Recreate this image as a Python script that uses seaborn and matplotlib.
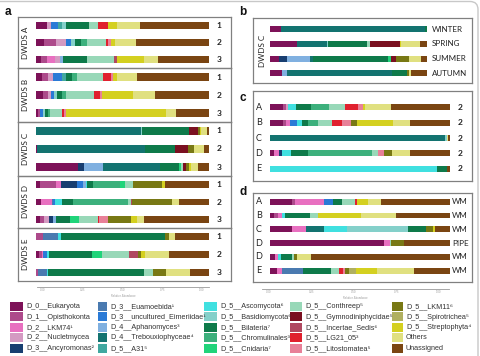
import numpy as np
import pandas as pd
import matplotlib
matplotlib.use('Agg')
import matplotlib.pyplot as plt
import matplotlib.transforms as mtransforms
from matplotlib.patches import Rectangle, FancyBboxPatch
import seaborn as sns

# taxa, in stacking / legend order
KEYS = ['euk', 'opi', 'lkm74', 'nuc', 'ancy', 'euam', 'eime', 'aphan', 'treb', 'a31',
        'asco', 'basid', 'bilat', 'chrom', 'cnid', 'conth', 'gymn', 'incert', 'lg21', 'lito',
        'lkm11', 'spiro', 'strep', 'others', 'unass']
LABELS = ['D_0__Eukaryota', 'D_1__Opisthokonta', 'D_2__LKM74¹', 'D_2__Nucletmycea', 'D_3__Ancyromonas²',
          'D_3__Euamoebida¹', 'D_3__uncultured_Eimeriidae¹', 'D_4__Aphanomyces³', 'D_4__Trebouxiophyceae⁴', 'D_5__A31⁵',
          'D_5__Ascomycota⁶', 'D_5__Basidiomycota⁶', 'D_5__Bilateria⁷', 'D_5__Chromulinales³', 'D_5__Cnidaria⁷',
          'D_5__Conthreep⁵', 'D_5__Gymnodiniphycidae⁵', 'D_5__Incertae_Sedis⁶', 'D_5__LG21_05³', 'D_5__Litostomatea⁵',
          'D_5__LKM11⁶', 'D_5__Spirotrichea⁵', 'D_5__Streptophyta⁴', 'Others', 'Unassigned']
COLORS = ['#7d1258', '#ad4a8b', '#e870c0', '#d49ac2', '#183e70',
          '#4a7ab0', '#2a7ad6', '#80b0e0', '#137370', '#40a8a0',
          '#40e0e0', '#84d0ca', '#0e7a4a', '#3cb07c', '#20d47a',
          '#98d8b8', '#7a1020', '#b04860', '#e0202e', '#e88098',
          '#787814', '#b0b060', '#d4d020', '#e0e080', '#7a4512']

# panel a: DWDS A-E, samples 1-3 (% relative abundance)
a_A1 = dict(euk=6.5, nuc=2.3, eime=4.0, a31=2.5, basid=2.3, bilat=13.4, conth=5.2, lg21=5.8, strep=4.8, others=13.4, unass=39.8)
a_A2 = dict(euk=4.8, opi=6.9, nuc=5.8, eime=2.9, basid=2.5, bilat=3.1, chrom=3.8, conth=10.7, lg21=1.5, lito=1.3, strep=2.7, others=12.1, unass=41.9)
a_A3 = dict(euk=2.9, opi=3.5, lkm74=4.8, nuc=2.9, aphan=1.5, bilat=13.8, conth=15.7, incert=1.9, strep=15.4, others=7.9, unass=29.7)
a_B1 = dict(euk=3.5, opi=3.8, nuc=2.9, eime=5.2, a31=1.9, bilat=3.5, chrom=2.9, conth=15.0, lg21=4.8, lito=1.3, strep=2.3, others=11.1, unass=41.8)
a_B2 = dict(euk=4.4, opi=2.9, nuc=1.3, eime=1.9, basid=1.9, bilat=2.5, chrom=2.5, conth=16.3, lg21=3.3, lito=1.3, strep=17.9, others=12.9, unass=30.9)
a_B3 = dict(euk=1.5, opi=1.0, eime=1.5, basid=1.5, bilat=1.5, chrom=1.0, conth=7.0, lg21=1.3, lito=1.0, strep=58.2, others=5.4, unass=19.2)
a_C1 = dict(treb=60.8, basid=0.5, bilat=27.3, gymn=5.0, lkm11=1.3, strep=0.5, others=3.4, unass=1.2)
a_C2 = dict(euk=1.0, treb=62.0, bilat=17.3, gymn=7.7, lkm11=3.5, others=5.5, unass=3.0)
a_C3 = dict(euk=24.2, ancy=3.8, aphan=10.6, treb=33.0, bilat=11.1, cnid=1.3, conth=1.0, gymn=1.9, lkm11=1.5, strep=1.0, others=4.2, unass=6.4)
a_D1 = dict(euk=2.5, opi=9.0, lkm74=2.9, ancy=9.2, eime=3.8, aphan=1.5, asco=0.8, bilat=3.3, chrom=15.9, cnid=2.9, conth=4.2, lkm11=16.9, strep=1.9, unass=25.2)
a_D2 = dict(euk=2.9, lkm74=6.3, euam=1.0, eime=1.0, asco=4.0, bilat=6.1, chrom=32.1, conth=1.5, incert=0.5, lkm11=23.0, others=4.2, unass=17.4)
a_D3 = dict(euk=2.5, opi=2.3, nuc=3.1, ancy=2.3, aphan=1.5, bilat=8.1, cnid=5.4, conth=10.6, lg21=1.0, lito=4.8, lkm11=13.4, strep=3.3, others=4.0, unass=37.7)
a_E1 = dict(opi=4.4, euam=8.6, asco=1.5, bilat=60.3, lkm11=2.1, others=3.3, unass=19.8)
a_E2 = dict(euk=1.9, opi=1.5, lkm74=1.0, eime=1.9, asco=1.5, bilat=24.4, cnid=5.8, conth=15.7, incert=5.4, lkm11=1.9, strep=1.9, others=14.0, unass=23.1)
a_E3 = dict(opi=1.5, euam=4.8, asco=1.0, bilat=55.3, conth=4.8, lkm11=7.7, others=13.8, unass=11.1)

# panel b: DWDS C by season
b_winter = dict(euk=6.8, treb=91.7, bilat=1.5)
b_spring = dict(euk=17.0, treb=19.1, basid=1.1, bilat=24.9, conth=1.3, gymn=19.1, strep=1.1, others=11.7, unass=4.7)
b_summer = dict(euk=6.0, ancy=5.1, aphan=14.5, treb=2.1, bilat=47.4, cnid=1.9, gymn=3.2, lkm11=8.5, others=7.4, unass=3.9)
b_autumn = dict(euk=7.9, aphan=2.8, treb=67.0, bilat=9.6, lkm11=1.0, others=1.5, unass=10.2)

# panel c: sample 2 of each DWDS
c_A = dict(euk=7.4, opi=1.5, nuc=1.0, asco=4.6, bilat=8.3, chrom=10.2, conth=8.7, lg21=7.0, lito=3.1, strep=1.0, others=14.3, unass=32.9)
c_B = dict(euk=7.4, opi=1.5, lkm74=2.2, eime=3.7, asco=2.8, bilat=3.7, chrom=5.6, conth=7.4, lg21=5.6, lito=5.0, lkm11=3.3, strep=20.0, others=9.6, unass=22.2)
c_C = dict(treb=97.2, basid=0.9, others=0.9, unass=1.0)
c_D = dict(euk=2.4, lkm74=2.8, ancy=1.3, asco=5.2, bilat=9.3, chrom=35.6, conth=3.3, lito=3.5, lkm11=4.3, others=10.2, unass=22.1)
c_E = dict(asco=92.6, bilat=5.9, unass=1.5)

# panel d: water main / pipe
d_A = dict(euk=12.0, opi=1.9, lkm74=16.1, eime=5.2, bilat=4.6, conth=7.4, lg21=0.9, strep=6.5, others=7.0, unass=38.4)
d_B = dict(euk=2.2, opi=2.4, lkm74=1.9, asco=1.9, bilat=13.9, conth=4.3, strep=24.1, others=19.4, unass=29.9)
d_C = dict(euk=12.4, lkm74=7.6, treb=10.0, asco=12.6, basid=34.3, bilat=9.8, lkm11=4.1, strep=0.9, unass=8.3)
d_D_pipe = dict(euk=63.5, lkm74=3.1, conth=0.9, lkm11=6.9, unass=25.6)
d_D_wm = dict(euk=2.8, lkm74=1.9, asco=1.3, bilat=6.1, conth=1.3, lkm11=1.5, others=8.0, unass=77.1)
d_E = dict(euk=4.1, lkm74=2.4, euam=12.0, bilat=15.4, conth=4.6, lg21=2.2, lito=0.9, lkm11=2.4, spiro=3.7, strep=11.5, others=20.8, unass=20.0)

sns.set_style('white')
plt.rcParams['font.family'] = ['Lato', 'DejaVu Sans']

W, H = 481, 356
fig = plt.figure(figsize=(W / 100, H / 100), dpi=100)
deco = fig.add_axes([0, 0, 1, 1], zorder=-5)
deco.set_xlim(0, W)
deco.set_ylim(H, 0)
deco.axis('off')

PALETTE = dict(zip(KEYS, COLORS))
FRAME = '#808080'
TXT = '#222222'


def px_axes(x0, y0, x1, y1):
    return fig.add_axes([x0 / W, 1 - y1 / H, (x1 - x0) / W, (y1 - y0) / H])


def stacked(ax, bars, ids, width):
    frac = pd.DataFrame([[b.get(k, 0.0) for k in KEYS] for b in bars], columns=KEYS)
    frac = frac.div(frac.sum(axis=1), axis=0)
    cum = frac.cumsum(axis=1)
    cum['row'] = ids
    long = cum.melt(id_vars='row', var_name='taxon', value_name='right')
    sns.barplot(data=long, x='right', y='row', hue='taxon', hue_order=KEYS[::-1],
                order=ids, palette=PALETTE, dodge=False, orient='h', width=width,
                saturation=1, linewidth=0, errorbar=None, legend=False, ax=ax)
    ax.set_xticks([])
    ax.set_yticks([])
    ax.set_xlabel('')
    ax.set_ylabel('')
    ax.set_facecolor('none')
    for sp in ax.spines.values():
        sp.set_color(FRAME)
        sp.set_linewidth(0.9)


def panel(frame, bar_x, bars, ids, pad_top, pad_bot, width):
    ax = px_axes(*frame)
    stacked(ax, bars, ids, width)
    bl, br = bar_x
    ax.set_xlim((frame[0] - bl) / (br - bl), (frame[2] - bl) / (br - bl))
    ax.set_ylim(len(ids) - 1 + pad_bot, -pad_top)
    return ax


def row_text(ax, x, ids, labels, **kw):
    tr = mtransforms.blended_transform_factory(deco.transData, ax.transData)
    for i, lab in zip(range(len(ids)), labels):
        ax.text(x, i, lab, transform=tr, va='center', color=TXT, clip_on=False, **kw)


# ---- panel a
a_sets = [('DWDS A', [a_A1, a_A2, a_A3], (17, 68)),
          ('DWDS B', [a_B1, a_B2, a_B3], (68, 122)),
          ('DWDS C', [a_C1, a_C2, a_C3], (122, 176)),
          ('DWDS D', [a_D1, a_D2, a_D3], (176, 228)),
          ('DWDS E', [a_E1, a_E2, a_E3], (228, 281))]
for name, bars, (top, bot) in a_sets:
    ids = ['1', '2', '3']
    ax = panel((18, top, 231, bot), (35.7, 209), bars, ids, 0.5, 0.5, 0.4)
    row_text(ax, 219, ids, ids, ha='center', fontsize=6, fontweight='bold')
    deco.text(26, (top + bot) / 2, name, rotation=90, ha='center', va='center',
              fontsize=5.8, color=TXT)

# ---- panel b
ids = ['WINTER', 'SPRING', 'SUMMER', 'AUTUMN']
ax = panel((253, 18.3, 472, 83.3), (270, 427), [b_winter, b_spring, b_summer, b_autumn],
           ids, 0.75, 0.68, 0.41)
row_text(ax, 432, ids, ids, ha='left', fontsize=5.8)
deco.text(263, 51, 'DWDS C', rotation=90, ha='center', va='center', fontsize=5.8, color=TXT)

# ---- panel c
ids = ['A', 'B', 'C', 'D', 'E']
ax = panel((253, 91, 472, 181), (270, 450), [c_A, c_B, c_C, c_D, c_E], ids, 1.04, 0.78, 0.39)
row_text(ax, 259, ids, ids, ha='center', fontsize=6.5)
row_text(ax, 460, ids, ['2'] * 5, ha='center', fontsize=6, fontweight='bold')

# ---- panel d
ids = ['A', 'B', 'C', 'D1', 'D2', 'E']
ax = panel((253, 193, 472, 282), (270, 450), [d_A, d_B, d_C, d_D_pipe, d_D_wm, d_E],
           ids, 0.63, 0.82, 0.43)
row_text(ax, 259, ids, ['A', 'B', 'C', 'D', 'D', 'E'], ha='center', fontsize=6.5)
row_text(ax, 452, ids, ['WM', 'WM', 'WM', 'PIPE', 'WM', 'WM'], ha='left', fontsize=5.8)

# ---- relative abundance axes
TICKS = [0, 0.25, 0.5, 0.75, 1.0]
for (x0, x1, y, z0, z1) in [(36.7, 209, 287, 43, 202), (262, 449, 289, 269, 439)]:
    axx = px_axes(x0, y, x1, y + 0.01)
    axx.set_xlim((x0 - z0) / (z1 - z0), (x1 - z0) / (z1 - z0))
    axx.set_yticks([])
    for s in ['top', 'left', 'right']:
        axx.spines[s].set_visible(False)
    axx.spines['bottom'].set_color('#999999')
    axx.spines['bottom'].set_linewidth(0.6)
    axx.set_xticks(TICKS)
    axx.set_xticklabels(['0.00', '0.25', '0.50', '0.75', '1.00'])
    axx.tick_params(axis='x', direction='in', length=2, width=0.4, color='#999999',
                    labelsize=2, labelcolor='#999999', pad=1)
    axx.set_xlabel('Relative Abundance', fontsize=2, color='#999999', labelpad=1)

# ---- panel letters
for lab, x, y in [('a', 8, 12), ('b', 243, 12), ('c', 243, 98), ('d', 243, 192)]:
    deco.text(x, y, lab, ha='center', va='center', fontsize=8.5, fontweight='bold',
              color='#111111', family=['Liberation Sans', 'DejaVu Sans'])

# ---- legend (5 columns x 5 rows)
col_x = [10, 98, 204, 290, 392]
col_w = [13, 9, 13, 12, 11]
for i, (lab, col) in enumerate(zip(LABELS, COLORS)):
    c, r = divmod(i, 5)
    y = 302 + r * 10.4
    deco.add_patch(Rectangle((col_x[c], y), col_w[c], 9, color=col, lw=0))
    deco.text(col_x[c] + col_w[c] + 3, y + 4.7, lab, ha='left', va='center', fontsize=5.2,
              color='#333333', family=['Liberation Sans', 'DejaVu Sans'])

# figure border
deco.add_patch(FancyBboxPatch((-20, 1.5), 498, 400, boxstyle='round,pad=0,rounding_size=8',
                              fc='none', ec='#c8c8c8', lw=1))

fig.savefig('out.png', dpi=100)
